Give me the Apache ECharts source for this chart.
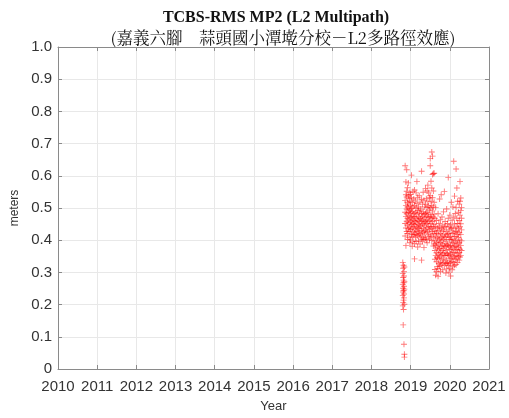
<!DOCTYPE html>
<html>
<head>
<meta charset="utf-8">
<script src="https://cdn.jsdelivr.net/npm/echarts@6/dist/echarts.min.js"></script>
<style>
html, body { margin: 0; padding: 0; background: #fff; }
#chart { width: 509px; height: 418px; }
</style>
</head>
<body>
<div id="chart"></div>
<script>
// Titles and axis text
const titleText = 'TCBS-RMS MP2 (L2 Multipath)';
const subtitleText = '(嘉義六腳　蒜頭國小潭墘分校－L2多路徑效應)';
const xAxisName = 'Year';
const yAxisName = 'meters';

// Axis ranges / ticks
const yearMin = 2010, yearMax = 2021, yearStep = 1;
const meterMin = 0, meterMax = 1, meterStep = 0.1;

// Daily MP2 RMS solutions: epoch (decimal year) and the values observed around it (m)
const sessionYears = [
  2018.80, 2018.81, 2018.82, 2018.83, 2018.84,
  2018.86, 2018.88, 2018.90, 2018.92, 2018.94, 2018.96, 2018.98,
  2019.00, 2019.02, 2019.04, 2019.06, 2019.08, 2019.10, 2019.12, 2019.14,
  2019.16, 2019.18, 2019.20, 2019.22, 2019.24, 2019.26, 2019.28, 2019.30,
  2019.32, 2019.34, 2019.36, 2019.38, 2019.40, 2019.42, 2019.44, 2019.46,
  2019.48, 2019.50, 2019.52, 2019.54, 2019.56, 2019.58, 2019.60,
  2019.62, 2019.64, 2019.66, 2019.68, 2019.70, 2019.72, 2019.74, 2019.76,
  2019.78, 2019.80, 2019.82, 2019.84, 2019.86, 2019.88, 2019.90, 2019.92,
  2019.94, 2019.96, 2019.98, 2020.00, 2020.02, 2020.04, 2020.06, 2020.08,
  2020.10, 2020.12, 2020.14, 2020.16, 2020.18, 2020.20, 2020.22, 2020.24,
  2020.26, 2020.28, 2020.30
];
const sessionMp2 = [
  [0.331, 0.297, 0.262, 0.228, 0.196],
  [0.313, 0.284, 0.251, 0.239, 0.206, 0.137],
  [0.322, 0.276, 0.268, 0.244, 0.214, 0.185],
  [0.302, 0.289, 0.257, 0.233, 0.221, 0.077],
  [0.317, 0.271, 0.248, 0.201, 0.046, 0.037],
  [0.631, 0.523, 0.487, 0.452, 0.413],
  [0.581, 0.541, 0.508, 0.474, 0.438, 0.383],
  [0.619, 0.552, 0.534, 0.497, 0.482, 0.459, 0.427],
  [0.563, 0.518, 0.503, 0.468, 0.447, 0.421, 0.402],
  [0.578, 0.538, 0.512, 0.486, 0.463, 0.436],
  [0.529, 0.497, 0.478, 0.454, 0.428, 0.408],
  [0.548, 0.521, 0.493, 0.469, 0.441, 0.392],
  [0.542, 0.507, 0.484, 0.457, 0.433, 0.401],
  [0.602, 0.532, 0.498, 0.472, 0.449, 0.418],
  [0.517, 0.489, 0.463, 0.437, 0.412, 0.381],
  [0.551, 0.503, 0.474, 0.452, 0.426, 0.397],
  [0.528, 0.483, 0.461, 0.443, 0.417],
  [0.556, 0.508, 0.473, 0.448, 0.422, 0.389, 0.342],
  [0.522, 0.486, 0.458, 0.432, 0.409],
  [0.547, 0.499, 0.468, 0.441, 0.418, 0.396],
  [0.582, 0.513, 0.481, 0.453, 0.428],
  [0.533, 0.492, 0.462, 0.437, 0.414, 0.379],
  [0.503, 0.472, 0.449, 0.426, 0.398],
  [0.538, 0.484, 0.457, 0.438, 0.416],
  [0.518, 0.491, 0.468, 0.446, 0.421, 0.388],
  [0.497, 0.466, 0.443, 0.411],
  [0.614, 0.527, 0.482, 0.459, 0.431, 0.403, 0.338],
  [0.512, 0.474, 0.451, 0.423, 0.397],
  [0.549, 0.488, 0.462, 0.436, 0.408],
  [0.524, 0.479, 0.453, 0.428, 0.402, 0.377],
  [0.503, 0.471, 0.447, 0.419],
  [0.561, 0.512, 0.483, 0.458, 0.432, 0.407],
  [0.529, 0.487, 0.463, 0.439, 0.401],
  [0.553, 0.502, 0.474, 0.451, 0.423, 0.392],
  [0.571, 0.519, 0.484, 0.457, 0.428],
  [0.547, 0.506, 0.472, 0.443, 0.412],
  [0.532, 0.494, 0.461, 0.434, 0.403],
  [0.654, 0.631, 0.538, 0.501, 0.472, 0.442, 0.413],
  [0.583, 0.521, 0.479, 0.452, 0.418],
  [0.674, 0.562, 0.508, 0.468, 0.437, 0.399],
  [0.661, 0.604, 0.532, 0.491, 0.458, 0.428],
  [0.607, 0.553, 0.503, 0.472, 0.441, 0.409, 0.382],
  [0.608, 0.518, 0.481, 0.449, 0.421, 0.388],
  [0.468, 0.428, 0.397, 0.368, 0.341, 0.309],
  [0.502, 0.443, 0.412, 0.383, 0.352, 0.291],
  [0.461, 0.422, 0.392, 0.361, 0.333, 0.302],
  [0.438, 0.407, 0.378, 0.347, 0.318],
  [0.482, 0.431, 0.401, 0.372, 0.343, 0.312, 0.288],
  [0.452, 0.418, 0.388, 0.357, 0.328],
  [0.528, 0.441, 0.404, 0.374, 0.348, 0.319],
  [0.463, 0.421, 0.393, 0.362, 0.331, 0.302],
  [0.541, 0.437, 0.408, 0.381, 0.352, 0.323],
  [0.472, 0.428, 0.398, 0.368, 0.339],
  [0.447, 0.413, 0.384, 0.357, 0.329, 0.308],
  [0.488, 0.432, 0.402, 0.373, 0.342],
  [0.551, 0.441, 0.411, 0.382, 0.353, 0.321],
  [0.458, 0.419, 0.389, 0.361, 0.332],
  [0.443, 0.408, 0.379, 0.352, 0.327, 0.298],
  [0.497, 0.428, 0.397, 0.369, 0.338, 0.311],
  [0.452, 0.417, 0.387, 0.358, 0.329],
  [0.595, 0.468, 0.421, 0.384, 0.353, 0.322],
  [0.441, 0.409, 0.381, 0.354, 0.328, 0.301],
  [0.478, 0.432, 0.402, 0.371, 0.342, 0.313],
  [0.448, 0.412, 0.383, 0.357, 0.331, 0.289],
  [0.518, 0.437, 0.401, 0.373, 0.344],
  [0.462, 0.421, 0.392, 0.363, 0.334, 0.308],
  [0.503, 0.438, 0.403, 0.378, 0.348, 0.319],
  [0.645, 0.472, 0.423, 0.391, 0.362, 0.331],
  [0.537, 0.451, 0.412, 0.382, 0.351, 0.322],
  [0.483, 0.428, 0.398, 0.369, 0.341],
  [0.621, 0.502, 0.441, 0.412, 0.381, 0.352, 0.324],
  [0.562, 0.468, 0.428, 0.398, 0.371, 0.342],
  [0.521, 0.452, 0.418, 0.388, 0.359, 0.331],
  [0.487, 0.437, 0.408, 0.378, 0.349],
  [0.512, 0.461, 0.423, 0.392, 0.362, 0.338],
  [0.582, 0.521, 0.478, 0.442, 0.401, 0.372, 0.348],
  [0.531, 0.492, 0.451, 0.418, 0.383, 0.353],
  [0.502, 0.468, 0.432, 0.398, 0.368]
];

// Flatten into [year, meters] pairs for the scatter series
const points = [];
sessionYears.forEach((t, i) => {
  sessionMp2[i].forEach(v => points.push([t, v]));
});

const frameColor = '#8a8a8a';
const gridColor = '#e8e8e8';
const labelColor = '#333';
const plusMark = 'path://M-0.15,-1H0.15V1H-0.15Z M-1,-0.15H1V0.15H-1Z';

const chart = echarts.init(document.getElementById('chart'), null, { renderer: 'canvas' });

const frameX = (pos, showLabels) => ({
  type: 'value', position: pos, min: yearMin, max: yearMax, interval: yearStep,
  axisLine: { show: true, onZero: false, lineStyle: { color: frameColor, width: 1 } },
  axisTick: { show: true, inside: true, length: 4, lineStyle: { color: frameColor } },
  axisLabel: { show: showLabels, color: labelColor, fontFamily: 'Liberation Sans, Arial', fontSize: 15, margin: 10,
               formatter: v => String(v) },
  splitLine: { show: showLabels, lineStyle: { color: gridColor, width: 1 } }
});
const frameY = (pos, showLabels) => ({
  type: 'value', position: pos, min: meterMin, max: meterMax, interval: meterStep,
  axisLine: { show: true, onZero: false, lineStyle: { color: frameColor, width: 1 } },
  axisTick: { show: true, inside: true, length: 4, lineStyle: { color: frameColor } },
  axisLabel: { show: showLabels, color: labelColor, fontFamily: 'Liberation Sans, Arial', fontSize: 15, margin: 6,
               formatter: v => (v === 0 ? '0' : v.toFixed(1)) },
  splitLine: { show: showLabels, lineStyle: { color: gridColor, width: 1 } }
});

const xMain = Object.assign(frameX('bottom', true), {
  name: xAxisName, nameLocation: 'middle', nameGap: 31,
  nameTextStyle: { color: labelColor, fontFamily: 'Liberation Sans, Arial', fontSize: 13 }
});
const yMain = Object.assign(frameY('left', true), {
  name: yAxisName, nameLocation: 'middle', nameGap: 32,
  nameTextStyle: { color: labelColor, fontFamily: 'Liberation Sans, Arial', fontSize: 12 }
});

chart.setOption({
  animation: false,
  backgroundColor: '#fff',
  grid: { left: 58, right: 20, top: 47, bottom: 45, containLabel: false },
  xAxis: [xMain, frameX('top', false)],
  yAxis: [yMain, frameY('right', false)],
  graphic: [
    { type: 'text', x: 276, y: 18, style: { text: titleText, textAlign: 'center', textVerticalAlign: 'middle',
      fill: '#111', font: 'bold 16px "Liberation Serif", "Times New Roman", serif' } },
    { type: 'text', x: 283, y: 38, style: { text: subtitleText, textAlign: 'center', textVerticalAlign: 'middle',
      fill: '#111', font: '16.5px "Noto Serif CJK TC", "Noto Sans CJK TC", serif' } }
  ],
  series: [{
    type: 'scatter',
    xAxisIndex: 0, yAxisIndex: 0,
    data: points,
    symbol: plusMark,
    symbolSize: 6,
    itemStyle: { color: '#ff0000', opacity: 0.55 },
    silent: true
  }]
});
</script>
</body>
</html>
